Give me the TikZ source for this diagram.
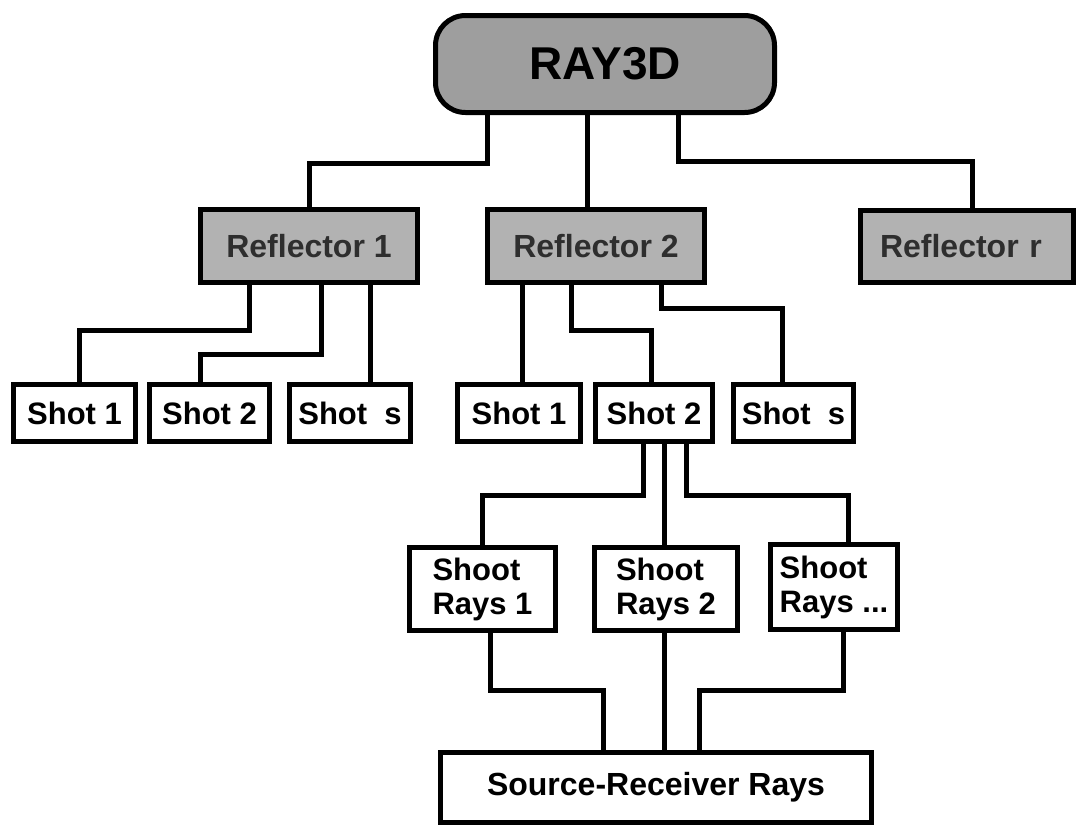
\documentclass[tikz,border=0pt]{standalone}
\usepackage{fontspec}
\setmainfont{Liberation Sans}
\usetikzlibrary{calc,backgrounds}
\begin{document}
\begin{tikzpicture}[x=1pt,y=-1pt,
  box/.style={draw=black, line width=5pt, fill=white, inner sep=0pt,
    font=\bfseries\fontsize{31}{34}\selectfont},
  refl/.style={box, fill=black!30, text=black!82,
    font=\bfseries\fontsize{32}{34}\selectfont, minimum height=73pt},
  shotbox/.style={box, minimum height=57pt},
  raybox/.style={box, minimum height=83pt, align=left},
  conn/.style={line width=5pt, line join=miter}]
\useasboundingbox (0,0) rectangle (1079,831);

% top node
\node[box, rounded corners=30pt, fill=black!38, minimum width=339pt, minimum height=97pt,
  font=\bfseries\fontsize{46}{50}\selectfont] (ray) at (605,64) {RAY3D};

% reflectors
\node[refl, minimum width=217pt] (r1) at (309,246) {Reflector 1};
\node[refl, minimum width=217pt] (r2) at (596,246) {Reflector 2};
\node[refl, minimum width=213pt, minimum height=72pt, text width=174pt, inner xsep=19.5pt, align=left] (rr) at (967,246.5) {Reflector r};

% shots, left group
\node[shotbox, minimum width=122pt] (s1l) at (74.5,413) {Shot 1};
\node[shotbox, minimum width=120pt] (s2l) at (209.5,413) {Shot 2};
\node[shotbox, minimum width=121pt] (ssl) at (350,413) {Shot~~s};

% shots, right group
\node[shotbox, minimum width=123pt] (s1r) at (519,413) {Shot 1};
\node[shotbox, minimum width=117pt] (s2r) at (654,413) {Shot 2};
\node[shotbox, minimum width=120pt] (ssr) at (793.5,413) {Shot~~s};

% shoot rays
\node[raybox, minimum width=146pt] (sr1) at (482.5,589) {Shoot\\Rays 1};
\node[raybox, minimum width=143pt] (sr2) at (666,589) {Shoot\\Rays 2};
\node[raybox, minimum width=127pt, minimum height=85pt] (sr3) at (834,587) {Shoot\\Rays ...};

% source-receiver rays
\node[box, minimum width=431pt, minimum height=70pt,
  font=\bfseries\fontsize{32}{34}\selectfont] (srr) at (656,787.5) {Source-Receiver Rays};

\begin{scope}[on background layer]
  % RAY3D to reflectors
  \draw[conn] ($(ray.center)+(-118,0)$) |- ($(r1.center)+(0,-83)$) -- (r1.center);
  \draw[conn] ($(ray.center)+(-18,0)$) -- ($(r2.center)+(-9,0)$);
  \draw[conn] ($(ray.center)+(73,0)$) |- ($(rr.center)+(5,-85)$) -- ($(rr.center)+(5,0)$);
  % reflector 1 to shots
  \draw[conn] ($(r1.center)+(-60,0)$) |- ($(s1l.center)+(4.5,-83)$) -- ($(s1l.center)+(4.5,0)$);
  \draw[conn] ($(r1.center)+(12,0)$) |- ($(s2l.center)+(-9.5,-59)$) -- ($(s2l.center)+(-9.5,0)$);
  \draw[conn] ($(r1.center)+(61,0)$) -- ($(ssl.center)+(20,0)$);
  % reflector 2 to shots
  \draw[conn] ($(r2.center)+(-74,0)$) -- ($(s1r.center)+(3,0)$);
  \draw[conn] ($(r2.center)+(-25,0)$) |- ($(s2r.center)+(-3,-83)$) -- ($(s2r.center)+(-3,0)$);
  \draw[conn] ($(r2.center)+(65,0)$) |- ($(ssr.center)+(-11.5,-105)$) -- ($(ssr.center)+(-11.5,0)$);
  % shot 2 to shoot rays
  \draw[conn] ($(s2r.center)+(-11,0)$) |- ($(sr1.center)+(-0.5,-94)$) -- ($(sr1.center)+(-0.5,0)$);
  \draw[conn] ($(s2r.center)+(10,0)$) -- ($(sr2.center)+(-2,0)$);
  \draw[conn] ($(s2r.center)+(32,0)$) |- ($(sr3.center)+(14,-92)$) -- ($(sr3.center)+(14,0)$);
  % shoot rays to source-receiver rays
  \draw[conn] ($(sr1.center)+(7.5,0)$) |- ($(srr.center)+(-53,-97.5)$) -- ($(srr.center)+(-53,0)$);
  \draw[conn] ($(sr2.center)+(-2,0)$) -- ($(srr.center)+(8,0)$);
  \draw[conn] ($(sr3.center)+(9,0)$) |- ($(srr.center)+(43,-97.5)$) -- ($(srr.center)+(43,0)$);
\end{scope}
\end{tikzpicture}
\end{document}
